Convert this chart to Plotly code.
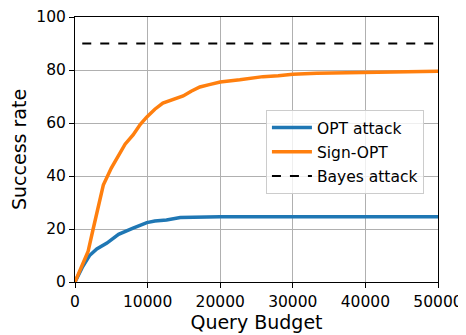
import plotly.graph_objects as go

opt_x = [0, 1000, 2000, 3000, 4400, 6000, 8000, 9900, 11000, 12600, 14500, 17000, 20000, 25000, 30000, 40000, 50000]
opt_y = [0, 5.5, 10, 12.5, 14.7, 18, 20.3, 22.4, 23, 23.4, 24.3, 24.5, 24.6, 24.6, 24.6, 24.6, 24.6]

sign_x = [0, 1000, 1800, 2500, 3200, 3900, 5000, 6000, 6900, 8000, 9000, 9900, 11000, 12100, 13500, 14900, 16000, 17200, 18500, 20000, 22700, 25900, 28000, 30000, 33300, 36000, 39700, 45000, 50000]
sign_y = [0, 6, 11.5, 20, 28, 36.6, 43, 48, 52, 55.5, 59.5, 62.3, 65.2, 67.5, 69, 70.2, 72, 73.6, 74.5, 75.5, 76.3, 77.5, 77.8, 78.4, 78.8, 78.9, 79.1, 79.3, 79.5]

bayes_x = [1000, 50000]
bayes_y = [90, 90]

x_ticks = [0, 10000, 20000, 30000, 40000, 50000]
y_ticks = [0, 20, 40, 60, 80, 100]

fig = go.Figure()
fig.add_trace(go.Scatter(x=opt_x, y=opt_y, mode="lines", name="OPT attack", legendgroup="a",
                         line=dict(color="#1f77b4", width=3.5)))
fig.add_trace(go.Scatter(x=sign_x, y=sign_y, mode="lines", name="Sign-OPT", legendgroup="b",
                         line=dict(color="#ff7f0e", width=3.5)))
fig.add_trace(go.Scatter(x=bayes_x, y=bayes_y, mode="lines", name="Bayes attack", legendgroup="c",
                         line=dict(color="black", width=2, dash="dash")))

font = "DejaVu Sans"
fig.update_layout(
    width=458, height=327,
    margin=dict(l=67, r=28, t=9, b=53),
    plot_bgcolor="white", paper_bgcolor="white",
    font=dict(family=font, size=15.5, color="black"),
    showlegend=True,
    legend=dict(x=0.526, y=0.649, xanchor="left", yanchor="top",
                bgcolor="rgba(255,255,255,0.8)", bordercolor="#cccccc", borderwidth=1,
                font=dict(family=font, size=15.5), itemwidth=40, tracegroupgap=1),
    xaxis=dict(range=[0, 50000], tickvals=x_ticks, ticktext=[str(v) for v in x_ticks],
               showline=True, linecolor="black", linewidth=1, mirror=True,
               ticks="outside", ticklen=5, tickcolor="black", automargin=False,
               showgrid=True, gridcolor="#b0b0b0", gridwidth=1, zeroline=False,
               title=dict(text="Query Budget", font=dict(family=font, size=19), standoff=2)),
    yaxis=dict(range=[0, 100], tickvals=y_ticks, ticktext=[str(v) for v in y_ticks],
               showline=True, linecolor="black", linewidth=1, mirror=True,
               ticks="outside", ticklen=5, tickcolor="black", automargin=False,
               showgrid=True, gridcolor="#b0b0b0", gridwidth=1, zeroline=False,
               title=dict(text="Success rate", font=dict(family=font, size=19), standoff=17)),
)
fig.write_html("out.html")
